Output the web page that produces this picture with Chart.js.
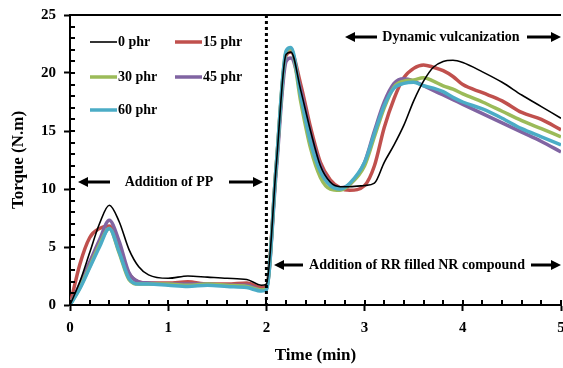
<!DOCTYPE html>
<html>
<head>
<meta charset="utf-8">
<script src="https://cdn.jsdelivr.net/npm/chart.js@4/dist/chart.umd.min.js"></script>
<style>
  html, body { margin: 0; padding: 0; background: #fff; }
  #wrap { width: 563px; height: 368px; }
</style>
</head>
<body>
<div id="wrap"><canvas id="torqueChart"></canvas></div>
<script>
// time axis (min), shared by all series
var time = [0, 0.1, 0.2, 0.3, 0.4, 0.5, 0.6, 0.7, 0.8, 1.0, 1.2, 1.4, 1.6, 1.8, 1.95, 2.0,
  2.1, 2.2, 2.25, 2.35, 2.45, 2.55, 2.65, 2.75, 2.85, 3.0, 3.1, 3.2, 3.3, 3.4, 3.5,
  3.6, 3.7, 3.8, 3.9, 4.0, 4.2, 4.4, 4.6, 4.8, 5.0];

// torque (N.m) for each RR loading
var phr0 = [0, 2.0, 4.5, 7.0, 8.6, 7.2, 4.8, 3.3, 2.6, 2.3, 2.5, 2.4, 2.3, 2.2, 1.7, 1.8,
  12, 21.6, 21.8, 18.5, 15.0, 12.0, 10.6, 10.2, 10.2, 10.3, 10.5, 12.3, 13.8, 15.5, 17.6,
  19.3, 20.5, 21.0, 21.1, 20.9, 20.1, 19.2, 18.1, 17.1, 16.1];
var phr15 = [0, 3.5, 5.8, 6.6, 6.8, 4.8, 2.7, 2.0, 1.9, 1.9, 2.0, 1.8, 1.8, 1.9, 1.5, 1.6,
  12, 21.5, 21.8, 19.0, 15.3, 12.3, 10.8, 10.1, 9.9, 10.3, 12.0, 15.3, 17.8, 19.6, 20.4,
  20.7, 20.5, 20.2, 19.7, 19.0, 18.3, 17.6, 16.6, 16.0, 15.1];
var phr30 = [0, 1.5, 3.3, 5.2, 6.6, 4.5, 2.2, 1.8, 1.8, 1.8, 1.7, 1.8, 1.7, 1.6, 1.3, 1.4,
  12, 21.8, 22.1, 17.5, 13.5, 11.0, 10.0, 9.9, 10.4, 12.0, 14.5, 17.0, 18.8, 19.3, 19.4,
  19.6, 19.3, 18.9, 18.6, 18.2, 17.5, 16.7, 15.9, 15.2, 14.5];
var phr45 = [0, 1.8, 3.7, 5.6, 7.3, 5.5, 2.8, 2.0, 1.9, 1.8, 1.8, 1.8, 1.7, 1.7, 1.3, 1.4,
  11.5, 21.0, 21.3, 18.5, 14.8, 12.0, 10.5, 10.1, 10.4, 12.3, 15.0, 17.5, 19.1, 19.5, 19.3,
  18.9, 18.5, 18.1, 17.7, 17.3, 16.5, 15.7, 14.9, 14.1, 13.2];
var phr60 = [0, 1.4, 3.2, 5.0, 6.6, 4.6, 2.3, 1.8, 1.8, 1.7, 1.6, 1.7, 1.6, 1.5, 1.2, 1.3,
  12, 21.9, 22.2, 18.0, 14.0, 11.5, 10.3, 10.0, 10.5, 12.3, 14.8, 17.2, 18.7, 19.1, 19.2,
  18.9, 18.7, 18.4, 17.9, 17.5, 16.9, 16.1, 15.2, 14.5, 13.8];

var seriesLabels = ['0 phr', '15 phr', '30 phr', '45 phr', '60 phr'];
var seriesValues = [phr0, phr15, phr30, phr45, phr60];
var seriesColors = ['#000000', '#c0504d', '#9bbb59', '#8064a2', '#4bacc6'];
var seriesWidths = [1.6, 3.5, 3.5, 3.5, 3.5];
var seriesOrder = [0, 4, 2, 3, 1];

var xTicks = [0, 1, 2, 3, 4, 5];
var yTicks = [0, 5, 10, 15, 20, 25];

var FONT = '"Liberation Serif", "Times New Roman", serif';

function toPoints(vals) {
  return vals.map(function (v, i) { return { x: time[i], y: v }; });
}

function arrow(ctx, x1, x2, y) {
  // shaft from x1 to x2, head at x2
  var dir = x2 > x1 ? 1 : -1;
  ctx.beginPath();
  ctx.moveTo(x1, y);
  ctx.lineTo(x2 - dir * 8, y);
  ctx.lineWidth = 3;
  ctx.strokeStyle = '#000';
  ctx.stroke();
  ctx.beginPath();
  ctx.moveTo(x2, y);
  ctx.lineTo(x2 - dir * 10, y - 5);
  ctx.lineTo(x2 - dir * 10, y + 5);
  ctx.closePath();
  ctx.fillStyle = '#000';
  ctx.fill();
}

// inward tick marks, dotted divider, annotations and legend
var extras = {
  id: 'extras',
  afterDraw: function (chart) {
    var c = chart.ctx;
    var xs = chart.scales.x, ys = chart.scales.y;
    var area = chart.chartArea;
    c.save();

    // top border
    c.strokeStyle = '#000000';
    c.lineWidth = 2;
    c.beginPath();
    c.moveTo(area.left, area.top);
    c.lineTo(area.right, area.top);
    c.stroke();

    // x ticks (every 0.2 min, pointing up into the plot)
    c.beginPath();
    for (var i = 0; i <= 25; i++) {
      var px = Math.round(xs.getPixelForValue(i * 0.2));
      c.moveTo(px, area.bottom);
      c.lineTo(px, area.bottom - 5);
    }
    // y ticks (every 1 N.m, pointing right into the plot)
    for (var j = 0; j <= 25; j++) {
      var py = Math.round(ys.getPixelForValue(j));
      c.moveTo(area.left, py);
      c.lineTo(area.left + 5, py);
    }
    c.strokeStyle = '#000000';
    c.lineWidth = 2;
    c.stroke();

    // dotted divider at 2 min
    var dx = xs.getPixelForValue(2);
    c.setLineDash([3, 3]);
    c.lineWidth = 3;
    c.beginPath();
    c.moveTo(dx, area.top);
    c.lineTo(dx, area.bottom);
    c.stroke();
    c.setLineDash([]);

    // annotations
    c.font = 'bold 14px ' + FONT;
    c.fillStyle = '#000';
    c.textBaseline = 'middle';
    c.textAlign = 'center';
    c.fillText('Addition of PP', 169, 182);
    arrow(c, 110, 78, 182);
    arrow(c, 229, 263, 182);

    c.fillStyle = '#000';
    c.fillText('Dynamic vulcanization', 451, 37);
    arrow(c, 377, 345, 37);
    arrow(c, 527, 561, 37);

    c.fillStyle = '#000';
    c.fillText('Addition of RR filled NR compound', 417, 265);
    arrow(c, 303, 274, 265);
    arrow(c, 531, 561, 265);

    // legend
    var slots = [[90, 42], [175, 42], [90, 77], [175, 77], [90, 110]];
    c.textAlign = 'left';
    c.font = 'bold 14px ' + FONT;
    chart.data.datasets.forEach(function (ds, k) {
      var s = slots[k];
      c.strokeStyle = ds.borderColor;
      c.lineWidth = ds.borderWidth;
      c.beginPath();
      c.moveTo(s[0], s[1]);
      c.lineTo(s[0] + 27, s[1]);
      c.stroke();
      c.fillStyle = '#000';
      c.fillText(ds.label, s[0] + 28, s[1]);
    });

    c.restore();
  }
};

var ctx = document.getElementById('torqueChart').getContext('2d');

var torqueChart = new Chart(ctx, {
  type: 'line',
  data: {
    datasets: seriesValues.map(function (vals, i) {
      return {
        label: seriesLabels[i],
        data: toPoints(vals),
        borderColor: seriesColors[i],
        borderWidth: seriesWidths[i],
        pointRadius: 0,
        cubicInterpolationMode: 'monotone',
        fill: false,
        order: seriesOrder[i]
      };
    })
  },
  options: {
    responsive: true,
    maintainAspectRatio: false,
    animation: false,
    layout: { padding: { top: 15, right: 2, left: 0, bottom: 0 } },
    plugins: {
      legend: { display: false },
      tooltip: { enabled: false }
    },
    scales: {
      x: {
        type: 'linear',
        min: 0,
        max: 5,
        afterBuildTicks: function (scale) {
          scale.ticks = xTicks.map(function (v) { return { value: v }; });
        },
        afterFit: function (scale) {
          scale.height = 63;
          scale.paddingLeft = 0;
          scale.paddingRight = 0;
        },
        grid: {
          display: true,
          drawOnChartArea: false,
          drawTicks: true,
          tickLength: 6,
          tickColor: '#000',
          tickWidth: 2
        },
        border: { display: true, color: '#000', width: 2 },
        ticks: {
          padding: 8,
          color: '#000',
          font: { family: FONT, size: 15, weight: 'bold' }
        },
        title: {
          display: true,
          text: 'Time (min)',
          color: '#000',
          padding: { top: 0, bottom: 2 },
          font: { family: FONT, size: 17, weight: 'bold' }
        }
      },
      y: {
        min: 0,
        max: 25,
        afterBuildTicks: function (scale) {
          scale.ticks = yTicks.map(function (v) { return { value: v }; });
        },
        afterFit: function (scale) {
          scale.width = 70;
          scale.paddingTop = 0;
          scale.paddingBottom = 0;
        },
        grid: {
          display: true,
          drawOnChartArea: false,
          drawTicks: true,
          tickLength: 6,
          tickColor: '#000',
          tickWidth: 2
        },
        border: { display: true, color: '#000', width: 2 },
        ticks: {
          padding: 8,
          color: '#000',
          font: { family: FONT, size: 15, weight: 'bold' }
        },
        title: {
          display: true,
          text: 'Torque (N.m)',
          color: '#000',
          padding: { top: 8, bottom: 0 },
          font: { family: FONT, size: 17, weight: 'bold' }
        }
      }
    }
  },
  plugins: [extras]
});
</script>
</body>
</html>
